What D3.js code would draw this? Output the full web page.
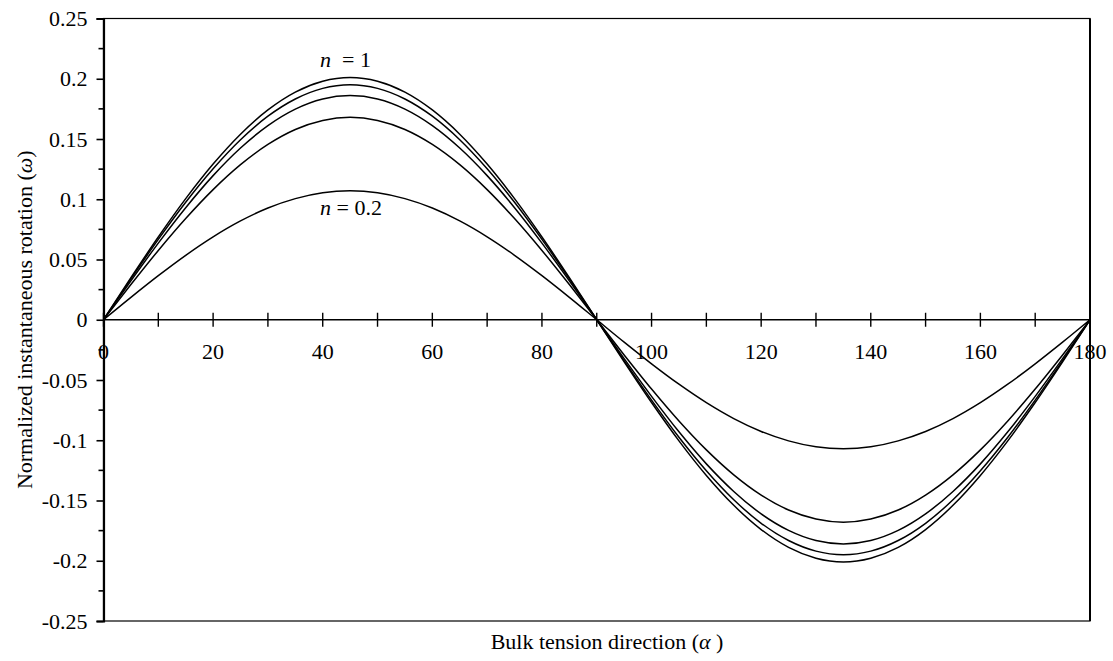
<!DOCTYPE html>
<html>
<head>
<meta charset="utf-8">
<script src="https://cdn.jsdelivr.net/npm/d3@7"></script>
<style>
  body { margin: 0; background: #fff; }
  text { font-family: "Liberation Serif", "Times New Roman", serif; fill: #000; }
</style>
</head>
<body>
<svg id="chart" width="1113" height="661"></svg>
<script>
// bulk tension direction (degrees)
var alpha = [0, 5, 10, 15, 20, 25, 30, 35, 40, 45, 50, 55, 60, 65, 70, 75, 80, 85, 90,
             95, 100, 105, 110, 115, 120, 125, 130, 135, 140, 145, 150, 155, 160, 165, 170, 175, 180];

// normalized instantaneous rotation (top to bottom)
var curve_a = [0, 0.0349, 0.0687, 0.1005, 0.1292, 0.1540, 0.1741, 0.1889, 0.1979, 0.2010, 0.1979, 0.1889, 0.1741, 0.1540, 0.1292, 0.1005, 0.0687, 0.0349, 0,
               -0.0349, -0.0687, -0.1005, -0.1292, -0.1540, -0.1741, -0.1889, -0.1979, -0.2010, -0.1979, -0.1889, -0.1741, -0.1540, -0.1292, -0.1005, -0.0687, -0.0349, 0];
var curve_b = [0, 0.0339, 0.0667, 0.0975, 0.1253, 0.1494, 0.1689, 0.1832, 0.1920, 0.1950, 0.1920, 0.1832, 0.1689, 0.1494, 0.1253, 0.0975, 0.0667, 0.0339, 0,
               -0.0339, -0.0667, -0.0975, -0.1253, -0.1494, -0.1689, -0.1832, -0.1920, -0.1950, -0.1920, -0.1832, -0.1689, -0.1494, -0.1253, -0.0975, -0.0667, -0.0339, 0];
var curve_c = [0, 0.0323, 0.0636, 0.0930, 0.1196, 0.1425, 0.1611, 0.1748, 0.1832, 0.1860, 0.1832, 0.1748, 0.1611, 0.1425, 0.1196, 0.0930, 0.0636, 0.0323, 0,
               -0.0323, -0.0636, -0.0930, -0.1196, -0.1425, -0.1611, -0.1748, -0.1832, -0.1860, -0.1832, -0.1748, -0.1611, -0.1425, -0.1196, -0.0930, -0.0636, -0.0323, 0];
var curve_d = [0, 0.0292, 0.0575, 0.0840, 0.1080, 0.1287, 0.1455, 0.1579, 0.1654, 0.1680, 0.1654, 0.1579, 0.1455, 0.1287, 0.1080, 0.0840, 0.0575, 0.0292, 0,
               -0.0292, -0.0575, -0.0840, -0.1080, -0.1287, -0.1455, -0.1579, -0.1654, -0.1680, -0.1654, -0.1579, -0.1455, -0.1287, -0.1080, -0.0840, -0.0575, -0.0292, 0];
var curve_e = [0, 0.0186, 0.0366, 0.0535, 0.0688, 0.0820, 0.0927, 0.1005, 0.1054, 0.1070, 0.1054, 0.1005, 0.0927, 0.0820, 0.0688, 0.0535, 0.0366, 0.0186, 0,
               -0.0186, -0.0366, -0.0535, -0.0688, -0.0820, -0.0927, -0.1005, -0.1054, -0.1070, -0.1054, -0.1005, -0.0927, -0.0820, -0.0688, -0.0535, -0.0366, -0.0186, 0];

var x_ticks = [0, 20, 40, 60, 80, 100, 120, 140, 160, 180];
var x_minor = [0, 10, 20, 30, 40, 50, 60, 70, 80, 90, 100, 110, 120, 130, 140, 150, 160, 170, 180];
var y_ticks = [0.25, 0.2, 0.15, 0.1, 0.05, 0, -0.05, -0.1, -0.15, -0.2, -0.25];
var y_minor = [0.225, 0.175, 0.125, 0.075, 0.025, -0.025, -0.075, -0.125, -0.175, -0.225];

// curve labels: [text after n, alpha position, value position]
var labels = [["  = 1", 39.5, 0.2098], [" = 0.2", 39.5, 0.0871]];

var svg = d3.select("#chart");

var m_left = 103.5, m_right = 1090, m_top = 18.5, m_bottom = 621;
var fs = 22;

var x = d3.scaleLinear().domain([0, 180]).range([m_left, m_right]);
var y = d3.scaleLinear().domain([-0.25, 0.25]).range([m_bottom, m_top]);

// frame
svg.append("rect")
    .attr("x", m_left).attr("y", m_top)
    .attr("width", m_right - m_left).attr("height", m_bottom - m_top)
    .attr("fill", "none").attr("stroke", "#000").attr("stroke-width", 1.2);
svg.append("line")
    .attr("x1", m_right).attr("x2", m_right).attr("y1", m_top).attr("y2", m_bottom)
    .attr("stroke", "#000").attr("stroke-width", 2);

// y axis
var yAxis = svg.append("g")
    .attr("transform", "translate(" + m_left + ",0)")
    .call(d3.axisLeft(y).tickValues(y_ticks).tickSize(7).tickPadding(9)
        .tickFormat(function(d) { return String(+d.toFixed(2)); }));
yAxis.select(".domain").attr("stroke-width", 2.2);
yAxis.selectAll(".tick line").attr("stroke-width", 1.6);
yAxis.selectAll("text").attr("font-size", fs)
    .style("font-family", "'Liberation Serif', serif");

svg.append("g")
    .attr("transform", "translate(" + m_left + ",0)")
    .selectAll("line").data(y_minor).enter().append("line")
    .attr("x1", -5).attr("x2", 0)
    .attr("y1", function(d) { return y(d); }).attr("y2", function(d) { return y(d); })
    .attr("stroke", "#000").attr("stroke-width", 1.6);

// x axis through zero
svg.append("line")
    .attr("x1", m_left).attr("x2", m_right).attr("y1", y(0)).attr("y2", y(0))
    .attr("stroke", "#000").attr("stroke-width", 1.4);
svg.append("g").selectAll("line").data(x_minor).enter().append("line")
    .attr("x1", function(d) { return x(d); }).attr("x2", function(d) { return x(d); })
    .attr("y1", y(0) - 7).attr("y2", y(0) + 7)
    .attr("stroke", "#000").attr("stroke-width", 1.4);
svg.append("g").selectAll("text").data(x_ticks).enter().append("text")
    .attr("x", function(d) { return x(d); })
    .attr("y", y(0) + 39)
    .attr("text-anchor", "middle")
    .attr("font-size", fs)
    .text(function(d) { return d; });

// curves
var line = d3.line()
    .x(function(d) { return x(d[0]); })
    .y(function(d) { return y(d[1]); })
    .curve(d3.curveMonotoneX);

[curve_a, curve_b, curve_c, curve_d, curve_e].forEach(function(vals) {
    svg.append("path")
        .datum(alpha.map(function(a, i) { return [a, vals[i]]; }))
        .attr("fill", "none")
        .attr("stroke", "#000")
        .attr("stroke-width", 1.5)
        .attr("d", line);
});

// curve labels
labels.forEach(function(l) {
    var t = svg.append("text")
        .attr("x", x(l[1])).attr("y", y(l[2]))
        .attr("font-size", fs)
        .style("white-space", "pre");
    t.append("tspan").attr("font-style", "italic").text("n");
    t.append("tspan").text(l[0]);
});

// axis titles
var xt = svg.append("text")
    .attr("x", 607).attr("y", 649)
    .attr("text-anchor", "middle")
    .attr("font-size", fs);
xt.append("tspan").text("Bulk tension direction (");
xt.append("tspan").attr("font-style", "italic").text("α");
xt.append("tspan").text(" )");

var yt = svg.append("text")
    .attr("transform", "translate(32," + ((m_top + m_bottom) / 2) + ") rotate(-90)")
    .attr("text-anchor", "middle")
    .attr("font-size", fs);
yt.append("tspan").text("Normalized instantaneous rotation (");
yt.append("tspan").attr("font-style", "italic").text("ω");
yt.append("tspan").text(")");
</script>
</body>
</html>
